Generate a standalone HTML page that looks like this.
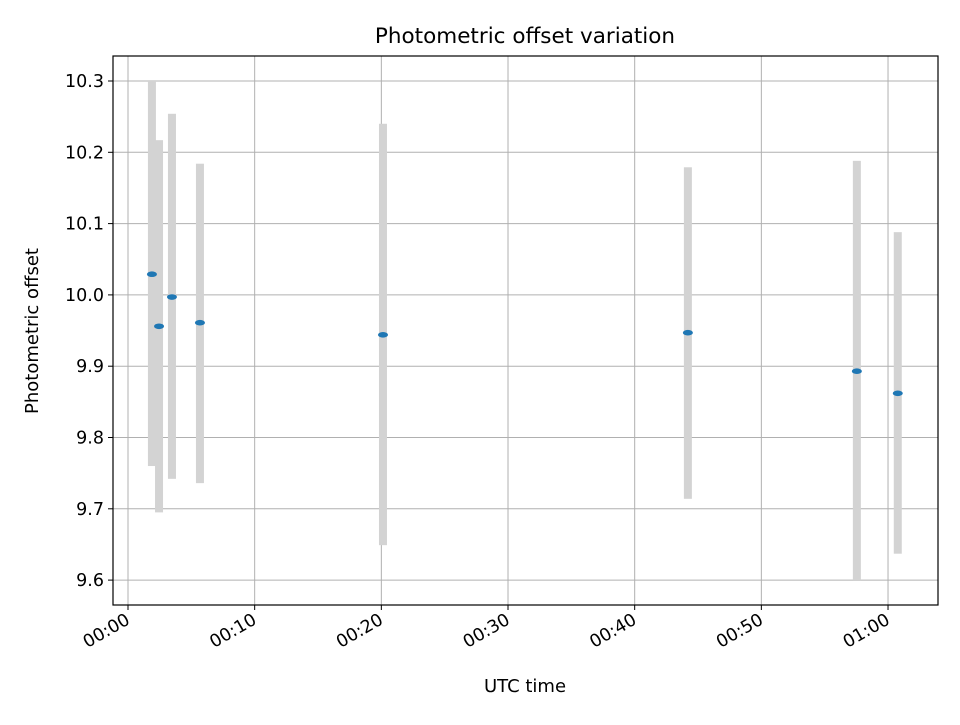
<!DOCTYPE html>
<html><head><meta charset="utf-8"><style>
body{margin:0;background:#fff;}
svg text{font-family:"DejaVu Sans","Liberation Sans",sans-serif;fill:#000;}
</style></head><body>
<svg id="chart" width="960" height="720" viewBox="0 0 960 720" xmlns="http://www.w3.org/2000/svg">
<rect width="960" height="720" fill="#fff"/>
<g id="grid"></g>
<g id="bars"></g>
<g id="pts"></g>
<rect x="113" y="56" width="825" height="549" fill="none" stroke="#000" stroke-width="1.2"/>
<g id="axes"></g>
<text x="525" y="43" text-anchor="middle" font-size="21.5">Photometric offset variation</text>
<text x="525" y="692" text-anchor="middle" font-size="18">UTC time</text>
<text x="38" y="331" text-anchor="middle" font-size="18" transform="rotate(-90 38 331)">Photometric offset</text>
</svg>
<script>
const times=[1.89,2.45,3.47,5.68,20.13,44.2,57.54,60.77];
const values=[10.029,9.956,9.997,9.961,9.944,9.947,9.893,9.862];
const errLow=[9.76,9.695,9.742,9.736,9.649,9.714,9.6,9.637];
const errHigh=[10.3,10.217,10.254,10.184,10.24,10.179,10.188,10.088];
const xTicks=[0,10,20,30,40,50,60];
const xTickLabels=["00:00","00:10","00:20","00:30","00:40","00:50","01:00"];
const yTicks=[9.6,9.7,9.8,9.9,10.0,10.1,10.2,10.3];
const yTickLabels=["9.6","9.7","9.8","9.9","10.0","10.1","10.2","10.3"];
const NS="http://www.w3.org/2000/svg";
const X=m=>128+m*12.667;
const Y=v=>81+(10.3-v)*713;
function mk(t,a,p){const e=document.createElementNS(NS,t);for(const k in a)e.setAttribute(k,a[k]);p.appendChild(e);return e;}
const grid=document.getElementById('grid'),axes=document.getElementById('axes'),bars=document.getElementById('bars'),pts=document.getElementById('pts');
xTicks.forEach((t,i)=>{
 const x=X(t);
 const g=mk('line',{x1:x,x2:x,y1:56,y2:605,stroke:'#b0b0b0','stroke-width':1},grid);
 
 
 const tk=mk('line',{x1:x,x2:x,y1:605,y2:610,stroke:'#000'},axes);
 
 
 const tx=mk('text',{x:x+3,y:623,'text-anchor':'end','font-size':17.5,transform:`rotate(-30 ${x+3} 623)`},axes);
 tx.textContent=xTickLabels[i];
 
 
});
yTicks.forEach((t,i)=>{
 const y=Y(t);
 const g=mk('line',{x1:113,x2:938,y1:y,y2:y,stroke:'#b0b0b0','stroke-width':1},grid);
 
 
 const tk=mk('line',{x1:108,x2:113,y1:y,y2:y,stroke:'#000'},axes);
 
 
 const tx=mk('text',{x:104,y:y+6,'text-anchor':'end','font-size':17.5},axes);
 tx.textContent=yTickLabels[i];
 
 
});
times.forEach((t,i)=>{
 const x=X(t);
 const b=mk('rect',{x:x-4,y:Y(errHigh[i]),width:8,height:Y(errLow[i])-Y(errHigh[i]),fill:'#d3d3d3'},bars);
 
 
 const p=mk('ellipse',{cx:x,cy:Y(values[i]),rx:5,ry:2.8,fill:'#1f77b4'},pts);
 
 
});
</script>
</body></html>
